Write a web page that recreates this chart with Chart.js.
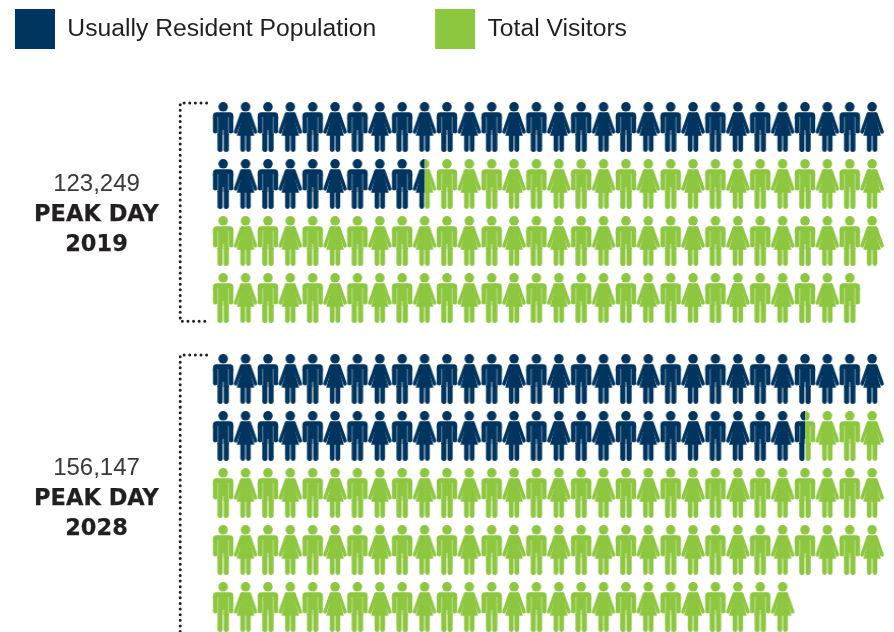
<!DOCTYPE html>
<html>
<head>
<meta charset="utf-8">
<title>Peak day population</title>
<script src="https://cdn.jsdelivr.net/npm/chart.js@4"></script>
<style>
    html, body { margin: 0; padding: 0; background: #fff; }
    canvas { display: block; }
</style>
</head>
<body>
<canvas id="peakChart" width="894" height="632"></canvas>
<script>
// Valores (um ícone = uma pessoa do gráfico, meio ícone na divisão)
const seriesNames   = ['Usually Resident Population', 'Total Visitors'];
const peakYears     = ['2019', '2028'];
const peakTotals    = ['123,249', '156,147'];
const residentIcons = [39.5, 56.5];
const totalIcons    = [119, 146];
const iconsPerRow   = 30;
const groupRows     = [4, 5];

const NAVY = '#003560';
const GREEN = '#8dc63f';
const INK = '#231f20';

// Linha onde cada grupo começa no eixo y, e linha do texto de cada grupo
const groupStart = [0, 4.42];
const labelRow   = [1.13, 6.11];

/** Desenha o boneco num canvas 30x50; side limita a metade esquerda ou direita */
function makeIcon(kind, color, side) {
    const c = document.createElement('canvas');
    c.width = 30;
    c.height = 50;
    const g = c.getContext('2d');
    g.fillStyle = color;
    g.strokeStyle = color;
    g.lineCap = 'round';

    if (side) {
        g.beginPath();
        g.rect(side === 'left' ? 0 : 15, 0, 15, 50);
        g.clip();
    }

    g.beginPath();
    g.arc(15, 4.8, 4.8, 0, Math.PI * 2);
    g.fill();

    if (kind === 'man') {
        // ombros e braços
        g.beginPath();
        g.roundRect(4.8, 10.2, 20.4, 7, [3.6, 3.6, 0, 0]);
        g.fill();
        g.fillRect(9, 14, 12, 19);
        g.lineWidth = 4.6;
        [7.1, 22.9].forEach(ax => {
            g.beginPath();
            g.moveTo(ax, 15);
            g.lineTo(ax, 29.2);
            g.stroke();
        });
        [12, 18].forEach(lx => {
            g.lineWidth = 5.4;
            g.beginPath();
            g.moveTo(lx, 30);
            g.lineTo(lx, 47.3);
            g.stroke();
        });
        // frestas claras entre braço e tronco
        g.globalCompositeOperation = 'destination-out';
        g.fillStyle = 'rgba(0,0,0,0.5)';
        g.fillRect(9.4, 15, 0.8, 17);
        g.fillRect(19.8, 15, 0.8, 17);
        g.fillStyle = 'rgba(0,0,0,0.8)';
        g.fillRect(14.6, 28, 0.8, 22);
    } else {
        // vestido, de cintura estreita
        g.beginPath();
        g.moveTo(11.4, 10.2);
        g.lineTo(18.6, 10.2);
        g.lineTo(19.6, 13);
        g.lineTo(20, 20);
        g.lineTo(23.8, 33.8);
        g.lineTo(6.2, 33.8);
        g.lineTo(10, 20);
        g.lineTo(10.4, 13);
        g.closePath();
        g.fill();
        // braços
        g.lineWidth = 3.6;
        [[11.2, 5], [18.8, 25]].forEach(([sx, hx]) => {
            g.beginPath();
            g.moveTo(sx, 12);
            g.lineTo(hx, 29.8);
            g.stroke();
        });
        [12.2, 17.8].forEach(lx => {
            g.lineWidth = 4.8;
            g.beginPath();
            g.moveTo(lx, 33);
            g.lineTo(lx, 47.6);
            g.stroke();
        });
    }
    return c;
}

const icons = {
    navy:  { man: makeIcon('man', NAVY),  woman: makeIcon('woman', NAVY) },
    green: { man: makeIcon('man', GREEN), woman: makeIcon('woman', GREEN) },
    navyHalf:  { man: makeIcon('man', NAVY, 'left'),   woman: makeIcon('woman', NAVY, 'left') },
    greenHalf: { man: makeIcon('man', GREEN, 'right'), woman: makeIcon('woman', GREEN, 'right') }
};

const residentPoints = [], residentStyles = [];
const visitorPoints  = [], visitorStyles  = [];

peakYears.forEach((year, g) => {
    for (let i = 0; i < totalIcons[g]; i++) {
        const x = i % iconsPerRow;
        const y = groupStart[g] + Math.floor(i / iconsPerRow);
        const kind = x % 2 === 0 ? 'man' : 'woman';
        const share = residentIcons[g] - i;

        if (share >= 1) {
            residentPoints.push({ x, y });
            residentStyles.push(icons.navy[kind]);
        } else if (share > 0) {
            residentPoints.push({ x, y });
            residentStyles.push(icons.navyHalf[kind]);
            visitorPoints.push({ x, y });
            visitorStyles.push(icons.greenHalf[kind]);
        } else {
            visitorPoints.push({ x, y });
            visitorStyles.push(icons.green[kind]);
        }
    }
});

// Colchetes pontilhados de cada grupo
const bracketDatasets = peakYears.map((year, g) => {
    const top = groupStart[g] - 0.42;
    const bottom = g === 0 ? groupStart[g] + groupRows[g] - 1 + 0.41 : 8.9;
    const points = [{ x: -0.74, y: top }, { x: -1.92, y: top }, { x: -1.92, y: bottom }];
    if (g === 0) points.push({ x: -0.74, y: bottom });
    return {
        data: points,
        showLine: true,
        pointRadius: 0,
        borderColor: INK,
        borderWidth: 3,
        borderDash: [0.01, 5.6],
        borderCapStyle: 'round',
        clip: false
    };
});

// Legenda nativa, só reposicionada; não ocupa altura para a área do gráfico ficar inteira
const layoutPlugin = {
    id: 'legendPlace',
    beforeLayout: (chart) => {
        const legend = chart.legend;
        if (legend.zeroHeight) return;
        const fit = legend.fit;
        legend.fit = function () {
            fit.call(this);
            this.height = 0;
        };
        legend.zeroHeight = true;
    },
    afterLayout: (chart) => {
        const padding = chart.options.plugins.legend.labels.padding;
        chart.legend.left = 15 - padding;
        chart.legend.top = 9 - padding;
        chart.legend.right = 894;
        chart.legend.bottom = 632;
    }
};

const peakLabelPlugin = {
    id: 'peakLabels',
    afterDatasetsDraw: (chart) => {
        const { ctx, scales } = chart;
        const cx = scales.x.getPixelForValue(-5.66);
        ctx.save();
        ctx.textAlign = 'center';
        ctx.textBaseline = 'alphabetic';
        ctx.strokeStyle = INK;
        ctx.lineWidth = 0.25;
        peakYears.forEach((year, g) => {
            ctx.fillStyle = '#3a3839';
            ctx.font = "24px 'Liberation Sans'";
            ctx.fillText(peakTotals[g], cx, scales.y.getPixelForValue(labelRow[g]));
            ctx.fillStyle = INK;
            ctx.font = "bold 22.5px 'DejaVu Sans'";
            [['PEAK DAY', 0.515], [year, 1.04]].forEach(([text, offset]) => {
                const y = scales.y.getPixelForValue(labelRow[g] + offset);
                ctx.fillText(text, cx, y);
                ctx.strokeText(text, cx, y);
            });
        });
        ctx.restore();
    }
};

Chart.defaults.font.family = "'Liberation Sans', sans-serif";

new Chart(document.getElementById('peakChart'), {
    type: 'scatter',
    plugins: [layoutPlugin, peakLabelPlugin],
    data: {
        datasets: [
            {
                label: seriesNames[0],
                data: residentPoints,
                pointStyle: residentStyles,
                backgroundColor: NAVY,
                borderWidth: 0,
                pointRadius: 25,
                clip: false
            },
            {
                label: seriesNames[1],
                data: visitorPoints,
                pointStyle: visitorStyles,
                backgroundColor: GREEN,
                borderWidth: 0,
                pointRadius: 25,
                clip: false
            },
            ...bracketDatasets
        ]
    },
    options: {
        responsive: false,
        animation: false,
        devicePixelRatio: 1,
        layout: { padding: 0, autoPadding: false },
        plugins: {
            tooltip: { enabled: false },
            legend: {
                position: 'top',
                align: 'start',
                labels: {
                    boxWidth: 40,
                    boxHeight: 40,
                    padding: 59,
                    color: INK,
                    font: { size: 24.7 },
                    filter: (item) => !!item.text
                }
            }
        },
        scales: {
            x: { type: 'linear', display: false, min: -9.973, max: 29.98 },
            y: { type: 'linear', display: false, reverse: true, min: -2.228, max: 8.86 }
        }
    }
});
</script>
</body>
</html>
